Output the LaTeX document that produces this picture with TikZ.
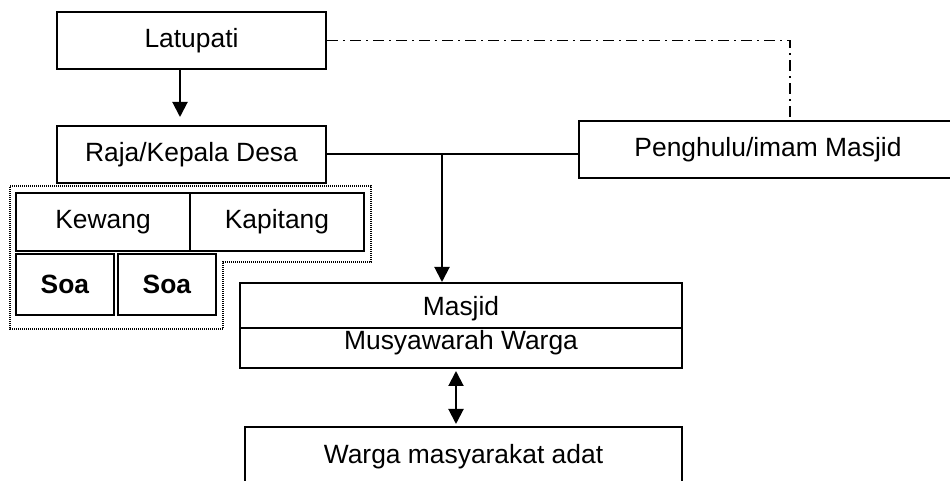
\documentclass[tikz,border=0pt]{standalone}
\usepackage{fontspec}
\setmainfont{Liberation Sans}
\usetikzlibrary{arrows.meta,calc}
\tikzset{
  box/.style={draw, line width=1pt, inner sep=0pt, font=\fontsize{13.2}{15}\selectfont},
  dims/.style 2 args={minimum width=#1*0.5pt, minimum height=#2*0.5pt},
  link/.style={line width=1pt},
  tip/.style={-{Triangle[width=7.5pt,length=7.5pt]}},
  tips/.style={{Triangle[width=7.5pt,length=7.5pt]}-{Triangle[width=7.5pt,length=7.5pt]}},
  dashdot/.style={line width=0.8pt, dash pattern=on 5.5pt off 2.5pt on 1pt off 2.5pt},
  dotline/.style={line width=0.6pt, dash pattern=on 0.5pt off 0.5pt},
}

\begin{document}
\begin{tikzpicture}[x=0.5pt,y=-0.5pt]
    \clip (0,0) rectangle (950,481);

    % top of the chart
    \node[box,dims={269}{57}] (lat) at (191.5,40.5) {Latupati};
    \node[box,dims={269}{57}] (raja) at (191.5,154.5) {Raja/Kepala Desa};
    \node[box,dims={378}{57}] (peng) at (768,149.5) {Penghulu/imam Masjid};

    % group under the Raja
    \node[box,dims={174}{58}] (kew) at (103,222) {Kewang};
    \node[box,dims={174}{58}] (kap) at (277,222) {Kapitang};
    \node[box,dims={98}{61}] (soaA) at (65,284.5) {\textbf{Soa}};
    \node[box,dims={98}{61}] (soaB) at (167,284.5) {\textbf{Soa}};
    \draw[dotline] (10,186) -- (371,186) -- (371,262) -- (223,262)
      -- (223,329) -- (10,329) -- cycle;

    % Masjid and the people
    \node[box,dims={442}{85}] (msj) at (461,325.5) {};
    \draw[link] (msj.west |- 0,328) -- (msj.east |- 0,328);
    \node[font=\fontsize{13.2}{15}\selectfont] (msjA) at (461,309) {Masjid};
    \node[font=\fontsize{13.2}{15}\selectfont] (msjB) at (461,343) {Musyawarah Warga};
    \node[box,dims={437}{60}] (warga) at (463.5,457) {Warga masyarakat adat};

    % connectors
    \draw[link,tip,shorten >=4pt] ([xshift=-5.75pt]lat.south) -- ([xshift=-5.75pt]raja.north);
    \draw[link] (raja.east) -- (raja.east -| peng.west);
    \coordinate (junc) at (raja.east -| 442,0);
    \draw[link,tip] (junc) -- (junc |- msj.north);
    \draw[link,tips,shorten <=1pt,shorten >=1pt] ([xshift=-2.5pt]msj.south) -- ([xshift=-2.5pt]msj.south |- warga.north);
    \draw[dashdot] (lat.east) -| ([xshift=11pt]peng.north);
\end{tikzpicture}
\end{document}
